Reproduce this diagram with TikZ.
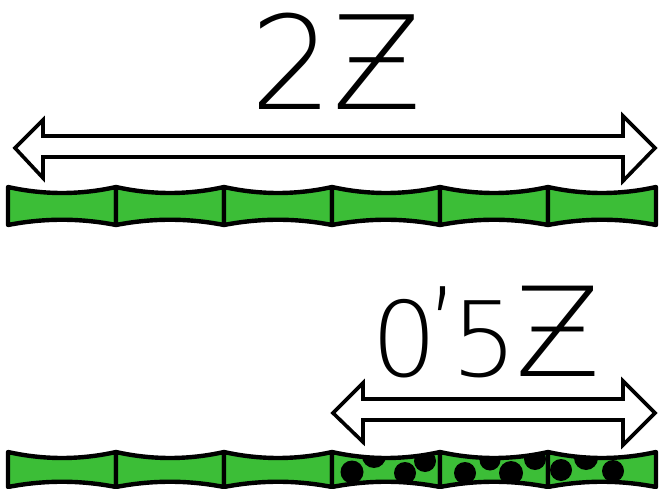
\documentclass[tikz,border=0pt]{standalone}
\usepackage{fontspec}
\newfontfamily\hand{DejaVuSans-ExtraLight.ttf}
\definecolor{bamboo}{RGB}{60,190,55}
\tikzset{
  segbox/.style={draw=black, line width=4.4pt, fill=bamboo, line join=round},
  arrowbox/.style={draw=black, line width=3.6pt, fill=white, line join=miter},
  dot/.style={fill=black},
  handtext/.style={inner sep=0pt, text=black}
}
\begin{document}
\begin{tikzpicture}[x=1pt,y=-1pt]
\useasboundingbox (0,0) rectangle (659,489);
% top bar
\foreach \a/\b in {8/116,116/224,224/332,332/440,440/548,548/656}{
  \draw[segbox] (\a,187) .. controls ({\a+36},195) and ({\b-36},195) .. (\b,187)
     -- (\b,225) .. controls ({\b-36},218) and ({\a+36},218) .. (\a,225) -- cycle;
}
% bottom bar plain
\foreach \a/\b in {8/116,116/224,224/332}{
  \draw[segbox] (\a,452) .. controls ({\a+36},460) and ({\b-36},460) .. (\b,452)
     -- (\b,487) .. controls ({\b-36},480) and ({\a+36},480) .. (\a,487) -- cycle;
}
% bottom bar dotted
\foreach \a/\b/\dots in {332/440/{352/472/11.5,374/456/12,405/473/11,425/461/11},
                         440/548/{465/473/11,490/460/10.5,511/473/12,535/459/11},
                         548/656/{561/470/11,586/458/12,613/471/11}}{
  \fill[bamboo] (\a,452) .. controls ({\a+36},460) and ({\b-36},460) .. (\b,452)
     -- (\b,487) .. controls ({\b-36},480) and ({\a+36},480) .. (\a,487) -- cycle;
  \begin{scope}
    \clip (\a,452) .. controls ({\a+36},460) and ({\b-36},460) .. (\b,452)
     -- (\b,487) .. controls ({\b-36},480) and ({\a+36},480) .. (\a,487) -- cycle;
    \foreach \cx/\cy/\r in \dots { \fill[dot] (\cx,\cy) circle (\r); }
  \end{scope}
  \draw[segbox, fill=none] (\a,452) .. controls ({\a+36},460) and ({\b-36},460) .. (\b,452)
     -- (\b,487) .. controls ({\b-36},480) and ({\a+36},480) .. (\a,487) -- cycle;
}
% top double arrow
\draw[arrowbox] (15,148) -- (43,120) -- (43,136) -- (623,136) -- (623,116) -- (655,148)
  -- (623,181) -- (623,157) -- (43,157) -- (43,178) -- cycle;
% bottom double arrow
\draw[arrowbox] (333,413) -- (363,383) -- (363,399) -- (623,399) -- (623,381) -- (655,413)
  -- (623,445) -- (623,420) -- (363,420) -- (363,442) -- cycle;
% labels
\node[handtext, anchor=base] (t1) at (336,110) {\hand\fontsize{130}{130}\selectfont 2Ƶ};
\node[handtext, anchor=base] (t2) at (486,376) {\hand{\fontsize{104}{104}\selectfont 0\kern-12pt\raisebox{14pt}{’}\kern-8pt5}\kern-2pt{\fontsize{124}{124}\selectfont Ƶ}};
\end{tikzpicture}
\end{document}
